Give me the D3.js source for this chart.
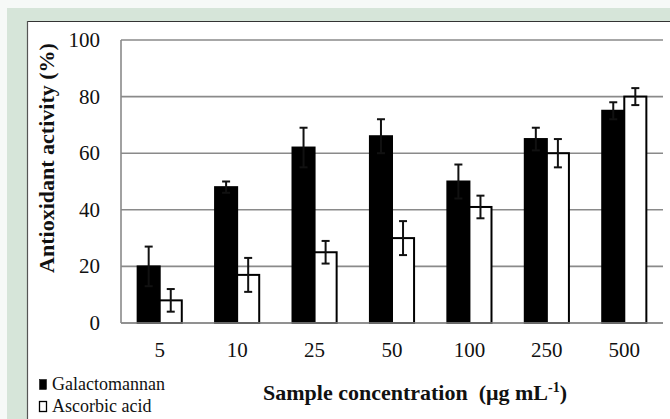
<!DOCTYPE html>
<html>
<head>
<meta charset="utf-8">
<script src="https://cdn.jsdelivr.net/npm/d3@7"></script>
<style>
  html, body { margin: 0; padding: 0; background: #f6f9f7; }
  svg { display: block; }
</style>
</head>
<body>
<svg id="chart" width="670" height="419"></svg>
<script>
const categories = ["5", "10", "25", "50", "100", "250", "500"];
const seriesNames = ["Galactomannan", "Ascorbic acid"];
const galactomannan = [20, 48, 62, 66, 50, 65, 75];
const galactomannanErr = [7, 2, 7, 6, 6, 4, 3];
const ascorbic = [8, 17, 25, 30, 41, 60, 80];
const ascorbicErr = [4, 6, 4, 6, 4, 5, 3];
const yTicks = [0, 20, 40, 60, 80, 100];

(function () {
const svg = d3.select("#chart");
const W = 670, H = 419;
const FONT = '"Liberation Serif"';

// frame
svg.append("rect").attr("x", 7).attr("y", 8).attr("width", W - 7).attr("height", H - 8).attr("fill", "#d6e5d9");
svg.append("rect").attr("x", 27).attr("y", 21).attr("width", W - 27).attr("height", H - 21).attr("fill", "#fff");
svg.append("line").attr("x1", 27).attr("x2", W).attr("y1", 21.5).attr("y2", 21.5).attr("stroke", "#333").attr("stroke-width", 1.2);
svg.append("line").attr("x1", 27.5).attr("x2", 27.5).attr("y1", 21).attr("y2", H).attr("stroke", "#555").attr("stroke-width", 1.2);

const pLeft = 121, pRight = 663, pTop = 40, pBottom = 323;

const x0 = d3.scaleBand().domain(categories).range([pLeft, pRight]).paddingInner(0.43).paddingOuter(0.215);
const x1 = d3.scaleBand().domain(seriesNames).range([0, x0.bandwidth()]);
const y = d3.scaleLinear().domain([0, 100]).range([pBottom, pTop]);

// gridlines
svg.append("g").selectAll("line").data(yTicks).join("line")
  .attr("x1", pLeft).attr("x2", pRight)
  .attr("y1", d => y(d)).attr("y2", d => y(d))
  .attr("stroke", "#8a8a8a").attr("stroke-width", 1.6);
// y axis line
svg.append("line").attr("x1", pLeft).attr("x2", pLeft).attr("y1", y(100)).attr("y2", y(0))
  .attr("stroke", "#8a8a8a").attr("stroke-width", 1.6);

// y tick labels
svg.append("g").selectAll("text").data(yTicks).join("text")
  .attr("x", 100).attr("y", d => y(d) + 7)
  .attr("text-anchor", "end").style("font-size", "21px").style("font-family", FONT).attr("fill", "#111")
  .text(d => String(d));

// x tick labels
svg.append("g").selectAll("text").data(categories).join("text")
  .attr("x", d => x0(d) + x0.bandwidth() / 2).attr("y", 357)
  .attr("text-anchor", "middle").style("font-size", "21px").style("font-family", FONT).attr("fill", "#111")
  .text(d => d);

const data = categories.map((c, i) => ({
  cat: c,
  vals: [
    { s: seriesNames[0], v: galactomannan[i], e: galactomannanErr[i] },
    { s: seriesNames[1], v: ascorbic[i], e: ascorbicErr[i] }
  ]
}));

const groups = svg.append("g").selectAll("g").data(data).join("g")
  .attr("transform", d => `translate(${x0(d.cat)},0)`);

groups.selectAll("rect").data(d => d.vals).join("rect")
  .attr("x", d => x1(d.s)).attr("width", x1.bandwidth())
  .attr("y", d => y(d.v)).attr("height", d => y(0) - y(d.v))
  .attr("fill", d => d.s === seriesNames[0] ? "#000" : "#fff")
  .attr("stroke", "#000").attr("stroke-width", 2);

// error bars
const cap = 4;
groups.selectAll("g.err").data(d => d.vals).join("g").attr("class", "err")
  .each(function(d) {
    const g = d3.select(this);
    const cx = x1(d.s) + x1.bandwidth() / 2;
    g.append("line").attr("x1", cx).attr("x2", cx).attr("y1", y(d.v + d.e)).attr("y2", y(d.v - d.e))
      .attr("stroke", "#111").attr("stroke-width", 2);
    [d.v + d.e, d.v - d.e].forEach(t => {
      g.append("line").attr("x1", cx - cap).attr("x2", cx + cap).attr("y1", y(t)).attr("y2", y(t))
        .attr("stroke", "#111").attr("stroke-width", 2);
    });
  });

// baseline on top
svg.append("line").attr("x1", pLeft).attr("x2", pRight).attr("y1", y(0)).attr("y2", y(0))
  .attr("stroke", "#8a8a8a").attr("stroke-width", 1.6);

// y title
svg.append("text")
  .attr("transform", `translate(54,158) rotate(-90)`)
  .attr("text-anchor", "middle").style("font-size", "22px").style("font-weight", "bold")
  .style("font-family", FONT).attr("fill", "#111")
  .text("Antioxidant activity (%)");

// x title
const xt = svg.append("text")
  .attr("x", 415).attr("y", 400)
  .attr("text-anchor", "middle").style("font-size", "22px").style("font-weight", "bold")
  .style("font-family", FONT).attr("fill", "#111");
xt.append("tspan").text("Sample concentration\u00a0 (μg mL");
xt.append("tspan").style("font-size", "14px").attr("dy", -8).text("-1");
xt.append("tspan").attr("dy", 8).text(")");

// legend
const legend = svg.append("g");
seriesNames.forEach((s, i) => {
  const ly = 390 + i * 22;
  legend.append("rect").attr("x", 39.5).attr("y", ly - 10.5).attr("width", 7).attr("height", 10)
    .attr("fill", i === 0 ? "#000" : "#fff").attr("stroke", "#000").attr("stroke-width", i === 0 ? 0.5 : 1.3);
  legend.append("text").attr("x", 52).attr("y", ly).style("font-size", "18px")
    .style("font-family", FONT).attr("fill", "#111").text(s);
});
})();
</script>
</body>
</html>
